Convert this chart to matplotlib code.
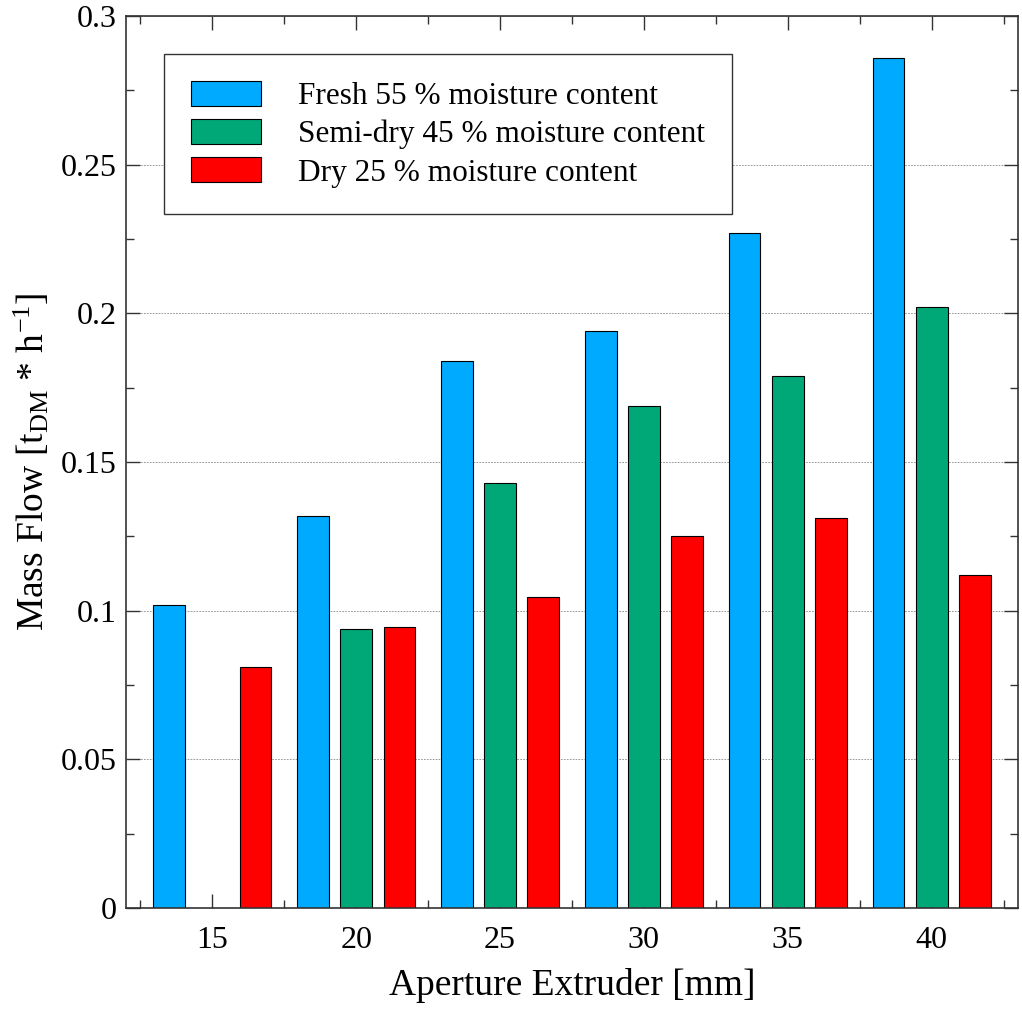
import numpy as np
import matplotlib.pyplot as plt
from matplotlib.ticker import MultipleLocator

plt.rcParams['font.family'] = ['Liberation Serif', 'DejaVu Serif']
plt.rcParams['mathtext.fontset'] = 'custom'
plt.rcParams['mathtext.rm'] = 'Liberation Serif'
plt.rcParams['mathtext.it'] = 'Liberation Serif:italic'

# data
apertures = [15, 20, 25, 30, 35, 40]
fresh = [0.102, 0.132, 0.184, 0.194, 0.227, 0.286]
semi_dry = [np.nan, 0.094, 0.143, 0.169, 0.179, 0.202]
dry = [0.081, 0.0945, 0.1045, 0.125, 0.131, 0.112]

labels = ['Fresh 55 % moisture content',
          'Semi-dry 45 % moisture content',
          'Dry 25 % moisture content']
colors = ['#00AAFF', '#00A878', '#FF0000']

fig = plt.figure(figsize=(10.22, 10.09), dpi=100)
ax = fig.add_axes([126 / 1022, 1 - 908 / 1009, 892 / 1022, 892 / 1009])

x = np.array(apertures, dtype=float)
offsets = [-1.5, 0, 1.5]
for series, off, c, lab in zip([fresh, semi_dry, dry], offsets, colors, labels):
    ax.bar(x + off, series, width=1.1, color=c, edgecolor='black',
           linewidth=0.8, label=lab)

ax.set_xlim(12, 43)
ax.set_ylim(0, 0.3)
ax.xaxis.set_major_locator(MultipleLocator(5))
ax.xaxis.set_minor_locator(MultipleLocator(2.5))
ax.yaxis.set_minor_locator(MultipleLocator(0.025))
ax.set_yticks([0, 0.05, 0.1, 0.15, 0.2, 0.25, 0.3])
ax.set_yticklabels(['0', '0.05', '0.1', '0.15', '0.2', '0.25', '0.3'])

ax.tick_params(which='both', direction='in', top=True, right=True,
               labelsize=23, width=1, color='#333333')
ax.tick_params(which='major', length=10)
ax.tick_params(which='minor', length=6)
ax.tick_params(axis='x', which='major', pad=13)
ax.tick_params(axis='y', which='major', pad=7)
for s in ax.spines.values():
    s.set_linewidth(1.2)
    s.set_color('#333333')

ax.set_axisbelow(True)
ax.grid(axis='y', which='major', linestyle=(0, (2, 1.5)), color='#888888',
        linewidth=0.6)

ax.set_xlabel('Aperture Extruder [mm]', fontsize=27, labelpad=9)
ax.set_ylabel('Mass Flow [t$_{\\rm DM}$ * h$^{-1}$]', fontsize=27, labelpad=6)

leg = ax.legend(loc='upper left', bbox_to_anchor=(0.043, 0.957), fontsize=22.5,
                frameon=True, fancybox=False, edgecolor='#333333',
                handlelength=2.24, handleheight=0.86, handletextpad=1.2,
                labelspacing=0.25, borderpad=0.85, borderaxespad=0)
leg.get_frame().set_linewidth(1.0)
leg.get_frame().set_alpha(1)

plt.savefig('out.png', dpi=100)
